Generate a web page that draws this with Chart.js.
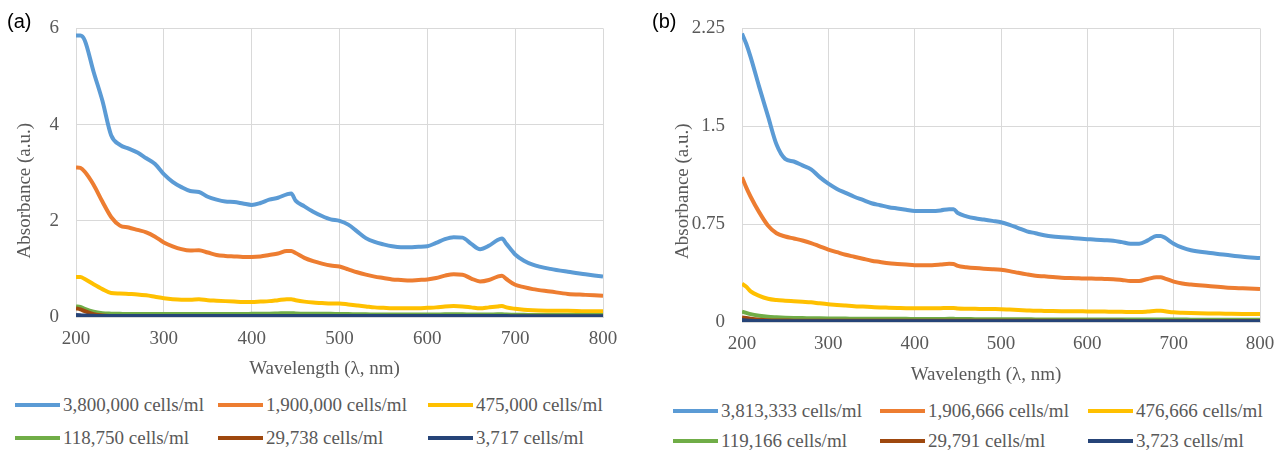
<!DOCTYPE html>
<html>
<head>
<meta charset="utf-8">
<script src="https://cdn.jsdelivr.net/npm/chart.js@4.4.0/dist/chart.umd.min.js"></script>
<style>
  body { margin: 0; background: #fff; width: 1288px; height: 451px; overflow: hidden; position: relative; font-family: 'Liberation Serif', 'Times New Roman', serif; }
  .panel { position: absolute; top: 0; }
  .tag { position: absolute; font-family: 'Liberation Sans', Arial, sans-serif; font-size: 20px; color: #000; }
  .item { position: absolute; display: flex; align-items: center; white-space: nowrap; font-size: 19px; color: #595959; transform: translateY(-50%); }
  .swatch { display: inline-block; width: 45px; height: 4px; margin-right: 3px; }
</style>
</head>
<body>
<div class="panel" style="left:0;width:640px;height:390px"><canvas id="chartA"></canvas></div>
<div class="panel" style="left:640px;width:648px;height:390px"><canvas id="chartB"></canvas></div>
<div class="tag" style="left:7px;top:10px">(a)</div>
<div class="tag" style="left:652px;top:10px">(b)</div>
<div id="legendA"></div>
<div id="legendB"></div>
<script>
// longueurs d'onde communes (nm)
const wavelengths = [
  200, 205, 210, 220, 230, 240, 250, 260, 270, 280,
  290, 300, 310, 320, 330, 340, 350, 360, 370, 380,
  390, 400, 410, 420, 430, 440, 445, 450, 460, 470,
  480, 490, 500, 510, 520, 530, 540, 550, 560, 570,
  580, 590, 600, 610, 620, 630, 640, 650, 660, 670,
  680, 685, 690, 700, 710, 720, 740, 760, 780, 800
];
const xTicks = [200, 300, 400, 500, 600, 700, 800];
const yTicksA = [0, 2, 4, 6];
const yTicksB = [0, 0.75, 1.5, 2.25];

const labelsA = ['3,800,000 cells/ml', '1,900,000 cells/ml', '475,000 cells/ml',
                 '118,750 cells/ml', '29,738 cells/ml', '3,717 cells/ml'];
const labelsB = ['3,813,333 cells/ml', '1,906,666 cells/ml', '476,666 cells/ml',
                 '119,166 cells/ml', '29,791 cells/ml', '3,723 cells/ml'];
const colors = ['#5B9BD5', '#ED7D31', '#FFC000', '#70AD47', '#9E480E', '#264478'];

// (a)
const absA1 = [
  5.85, 5.85, 5.75, 5.10, 4.50, 3.78, 3.58, 3.50, 3.42, 3.30,
  3.18, 2.97, 2.81, 2.70, 2.62, 2.60, 2.50, 2.44, 2.40, 2.39,
  2.36, 2.33, 2.37, 2.44, 2.48, 2.55, 2.57, 2.42, 2.30, 2.19,
  2.10, 2.03, 2.00, 1.92, 1.78, 1.64, 1.56, 1.51, 1.47, 1.45,
  1.45, 1.46, 1.47, 1.54, 1.62, 1.66, 1.65, 1.52, 1.41, 1.48,
  1.60, 1.63, 1.52, 1.30, 1.17, 1.09, 1.00, 0.94, 0.89, 0.84
];
const absA2 = [
  3.11, 3.10, 3.02, 2.75, 2.40, 2.08, 1.90, 1.86, 1.81, 1.76,
  1.67, 1.55, 1.47, 1.41, 1.38, 1.39, 1.34, 1.29, 1.27, 1.26,
  1.25, 1.25, 1.26, 1.29, 1.32, 1.37, 1.37, 1.33, 1.23, 1.16,
  1.11, 1.07, 1.05, 0.99, 0.93, 0.88, 0.84, 0.81, 0.78, 0.77,
  0.76, 0.77, 0.78, 0.81, 0.86, 0.89, 0.88, 0.80, 0.74, 0.77,
  0.84, 0.86, 0.79, 0.67, 0.62, 0.58, 0.53, 0.48, 0.46, 0.44
];
const absA3 = [
  0.83, 0.83, 0.79, 0.68, 0.58, 0.50, 0.49, 0.48, 0.47, 0.45,
  0.42, 0.39, 0.37, 0.36, 0.36, 0.37, 0.35, 0.34, 0.33, 0.32,
  0.31, 0.31, 0.32, 0.33, 0.35, 0.37, 0.37, 0.35, 0.32, 0.30,
  0.29, 0.28, 0.28, 0.26, 0.24, 0.22, 0.20, 0.19, 0.18, 0.18,
  0.18, 0.18, 0.19, 0.20, 0.22, 0.23, 0.22, 0.20, 0.18, 0.20,
  0.22, 0.23, 0.20, 0.17, 0.15, 0.14, 0.13, 0.13, 0.12, 0.12
];
const absA4 = [
  0.22, 0.21, 0.17, 0.11, 0.08, 0.07, 0.065, 0.06, 0.06, 0.06,
  0.06, 0.06, 0.06, 0.06, 0.06, 0.06, 0.06, 0.06, 0.06, 0.06,
  0.06, 0.065, 0.07, 0.07, 0.075, 0.08, 0.08, 0.075, 0.07, 0.07,
  0.065, 0.065, 0.06, 0.06, 0.055, 0.055, 0.05, 0.05, 0.05, 0.05,
  0.05, 0.05, 0.05, 0.05, 0.055, 0.055, 0.055, 0.05, 0.05, 0.05,
  0.055, 0.055, 0.05, 0.045, 0.045, 0.04, 0.04, 0.04, 0.04, 0.04
];
const absA5 = [
  0.18, 0.16, 0.12, 0.06, 0.03, 0.02, 0.015, 0.015, 0.015, 0.015,
  0.015, 0.015, 0.015, 0.015, 0.015, 0.015, 0.015, 0.015, 0.015, 0.015,
  0.015, 0.015, 0.015, 0.015, 0.015, 0.02, 0.02, 0.015, 0.015, 0.015,
  0.015, 0.015, 0.015, 0.015, 0.01, 0.01, 0.01, 0.01, 0.01, 0.01,
  0.01, 0.01, 0.01, 0.01, 0.01, 0.015, 0.01, 0.01, 0.01, 0.01,
  0.015, 0.015, 0.01, 0.01, 0.01, 0.01, 0.01, 0.01, 0.01, 0.01
];
const absA6 = [
  0.04, 0.035, 0.03, 0.025, 0.02, 0.02, 0.02, 0.02, 0.02, 0.02,
  0.02, 0.02, 0.02, 0.02, 0.02, 0.02, 0.02, 0.02, 0.02, 0.02,
  0.02, 0.02, 0.02, 0.02, 0.02, 0.02, 0.02, 0.02, 0.02, 0.02,
  0.02, 0.02, 0.02, 0.02, 0.02, 0.02, 0.02, 0.02, 0.02, 0.02,
  0.02, 0.02, 0.02, 0.02, 0.02, 0.02, 0.02, 0.02, 0.02, 0.02,
  0.02, 0.02, 0.02, 0.015, 0.015, 0.015, 0.015, 0.015, 0.015, 0.015
];

// (b)
const absB1 = [
  2.21, 2.13, 2.03, 1.80, 1.58, 1.36, 1.25, 1.23, 1.20, 1.17,
  1.11, 1.06, 1.02, 0.99, 0.96, 0.935, 0.91, 0.895, 0.88, 0.87,
  0.86, 0.85, 0.85, 0.85, 0.855, 0.865, 0.865, 0.835, 0.81, 0.795,
  0.785, 0.775, 0.765, 0.745, 0.72, 0.695, 0.68, 0.665, 0.655, 0.65,
  0.645, 0.64, 0.635, 0.63, 0.627, 0.623, 0.612, 0.60, 0.60, 0.625,
  0.66, 0.66, 0.645, 0.60, 0.57, 0.55, 0.53, 0.515, 0.50, 0.49
];
const absB2 = [
  1.11, 1.03, 0.96, 0.84, 0.74, 0.68, 0.655, 0.64, 0.625, 0.605,
  0.58, 0.555, 0.535, 0.515, 0.50, 0.485, 0.47, 0.46, 0.45, 0.445,
  0.44, 0.435, 0.435, 0.435, 0.44, 0.447, 0.445, 0.43, 0.42, 0.413,
  0.408, 0.405, 0.40, 0.39, 0.377, 0.365, 0.355, 0.35, 0.345, 0.34,
  0.337, 0.335, 0.333, 0.332, 0.33, 0.328, 0.322, 0.315, 0.315, 0.33,
  0.342, 0.342, 0.333, 0.31, 0.295, 0.287, 0.276, 0.265, 0.258, 0.252
];
const absB3 = [
  0.293, 0.27, 0.235, 0.20, 0.178, 0.168, 0.163, 0.159, 0.155, 0.151,
  0.143, 0.136, 0.131, 0.126, 0.121, 0.118, 0.115, 0.112, 0.110, 0.108,
  0.106, 0.105, 0.105, 0.105, 0.106, 0.107, 0.107, 0.104, 0.102, 0.101,
  0.100, 0.099, 0.098, 0.095, 0.092, 0.089, 0.086, 0.085, 0.084, 0.083,
  0.082, 0.082, 0.081, 0.081, 0.080, 0.079, 0.078, 0.077, 0.076, 0.080,
  0.086, 0.086, 0.082, 0.074, 0.071, 0.069, 0.066, 0.064, 0.062, 0.061
];
const absB4 = [
  0.08, 0.07, 0.06, 0.048, 0.04, 0.036, 0.033, 0.031, 0.03, 0.029,
  0.028, 0.027, 0.026, 0.026, 0.025, 0.025, 0.025, 0.024, 0.024, 0.024,
  0.024, 0.023, 0.023, 0.023, 0.023, 0.024, 0.024, 0.023, 0.023, 0.022,
  0.022, 0.022, 0.022, 0.021, 0.021, 0.021, 0.02, 0.02, 0.02, 0.02,
  0.02, 0.02, 0.02, 0.02, 0.02, 0.02, 0.02, 0.02, 0.02, 0.02,
  0.02, 0.02, 0.02, 0.019, 0.019, 0.018, 0.018, 0.018, 0.017, 0.017
];
const absB5 = [
  0.035, 0.03, 0.025, 0.018, 0.014, 0.012, 0.011, 0.01, 0.01, 0.01,
  0.01, 0.01, 0.01, 0.01, 0.01, 0.01, 0.01, 0.01, 0.01, 0.01,
  0.01, 0.01, 0.01, 0.01, 0.01, 0.01, 0.01, 0.01, 0.01, 0.01,
  0.01, 0.01, 0.01, 0.01, 0.009, 0.009, 0.009, 0.009, 0.009, 0.009,
  0.009, 0.009, 0.009, 0.009, 0.009, 0.009, 0.009, 0.008, 0.008, 0.008,
  0.008, 0.008, 0.008, 0.008, 0.008, 0.008, 0.008, 0.008, 0.008, 0.008
];
const absB6 = [
  0.015, 0.012, 0.01, 0.008, 0.007, 0.006, 0.006, 0.006, 0.006, 0.006,
  0.006, 0.006, 0.006, 0.006, 0.006, 0.006, 0.006, 0.006, 0.006, 0.006,
  0.005, 0.005, 0.005, 0.005, 0.005, 0.005, 0.005, 0.005, 0.005, 0.005,
  0.005, 0.005, 0.005, 0.005, 0.005, 0.005, 0.005, 0.005, 0.005, 0.005,
  0.005, 0.005, 0.005, 0.005, 0.005, 0.005, 0.005, 0.005, 0.005, 0.005,
  0.005, 0.005, 0.005, 0.005, 0.005, 0.005, 0.005, 0.005, 0.005, 0.005
];

Chart.defaults.font.family = "'Liberation Serif', 'Times New Roman', serif";
Chart.defaults.color = '#595959';

// titres d'axes un peu décalés comme dans la figure d'origine
const axisTitles = {
  id: 'axisTitles',
  afterDraw(chart, args, opts) {
    const { ctx, chartArea } = chart;
    ctx.save();
    ctx.font = '19px ' + Chart.defaults.font.family;
    ctx.fillStyle = '#595959';
    ctx.textAlign = 'center';
    ctx.textBaseline = 'middle';
    ctx.fillText('Wavelength (λ, nm)', (chartArea.left + chartArea.right) / 2 + opts.xShift, opts.xTitleY);
    ctx.translate(opts.yTitleX, (chartArea.top + chartArea.bottom) / 2 + opts.yShift);
    ctx.rotate(-Math.PI / 2);
    ctx.fillText('Absorbance (a.u.)', 0, 0);
    ctx.restore();
  }
};

function buildChart(id, series, labels, yTicks, box) {
  return new Chart(document.getElementById(id), {
    type: 'line',
    data: {
      datasets: series.map((vals, i) => ({
        label: labels[i],
        data: wavelengths.map((w, j) => ({ x: w, y: vals[j] })),
        borderColor: colors[i],
        backgroundColor: colors[i],
        borderWidth: 4,
        pointRadius: 0,
        cubicInterpolationMode: 'monotone',
        order: series.length - i
      }))
    },
    plugins: [axisTitles],
    options: {
      responsive: true,
      maintainAspectRatio: false,
      animation: false,
      layout: { padding: { left: 0, top: box.top, right: box.right, bottom: 0 } },
      plugins: {
        legend: { display: false },
        tooltip: { enabled: false },
        axisTitles: { xShift: -15, xTitleY: box.xTitleY, yTitleX: box.yTitleX, yShift: box.yShift }
      },
      scales: {
        x: {
          type: 'linear', min: 200, max: 800,
          afterBuildTicks: s => { s.ticks = xTicks.map(v => ({ value: v })); },
          afterFit: s => { s.height = box.xHeight; },
          grid: { color: '#d9d9d9', drawTicks: false },
          border: { color: '#d9d9d9' },
          ticks: { padding: 11, font: { size: 19 }, callback: v => String(v) }
        },
        y: {
          min: 0, max: yTicks[yTicks.length - 1],
          afterBuildTicks: s => { s.ticks = yTicks.map(v => ({ value: v })); },
          afterFit: s => { s.width = box.yWidth; },
          grid: { color: '#d9d9d9', drawTicks: false },
          border: { color: '#d9d9d9' },
          ticks: { padding: 17, font: { size: 19 }, callback: v => String(v) }
        }
      }
    }
  });
}

function buildLegend(id, labels, cols, rows) {
  const el = document.getElementById(id);
  labels.forEach((text, i) => {
    const item = document.createElement('div');
    item.className = 'item';
    item.style.left = cols[i % 3] + 'px';
    item.style.top = rows[Math.floor(i / 3)] + 'px';
    item.innerHTML = '<span class="swatch" style="background:' + colors[i] + '"></span>' + text;
    el.appendChild(item);
  });
}

buildChart('chartA', [absA1, absA2, absA3, absA4, absA5, absA6], labelsA, yTicksA,
  { top: 28, right: 37, xHeight: 73, yWidth: 76, xTitleY: 369, yTitleX: 25, yShift: 18 });
buildChart('chartB', [absB1, absB2, absB3, absB4, absB5, absB6], labelsB, yTicksB,
  { top: 16, right: 28, xHeight: 68, yWidth: 102, xTitleY: 375, yTitleX: 43, yShift: 16 });

buildLegend('legendA', labelsA, [15, 218, 428], [405, 438]);
buildLegend('legendB', labelsB, [673, 880, 1088], [411, 441]);
</script>
</body>
</html>
